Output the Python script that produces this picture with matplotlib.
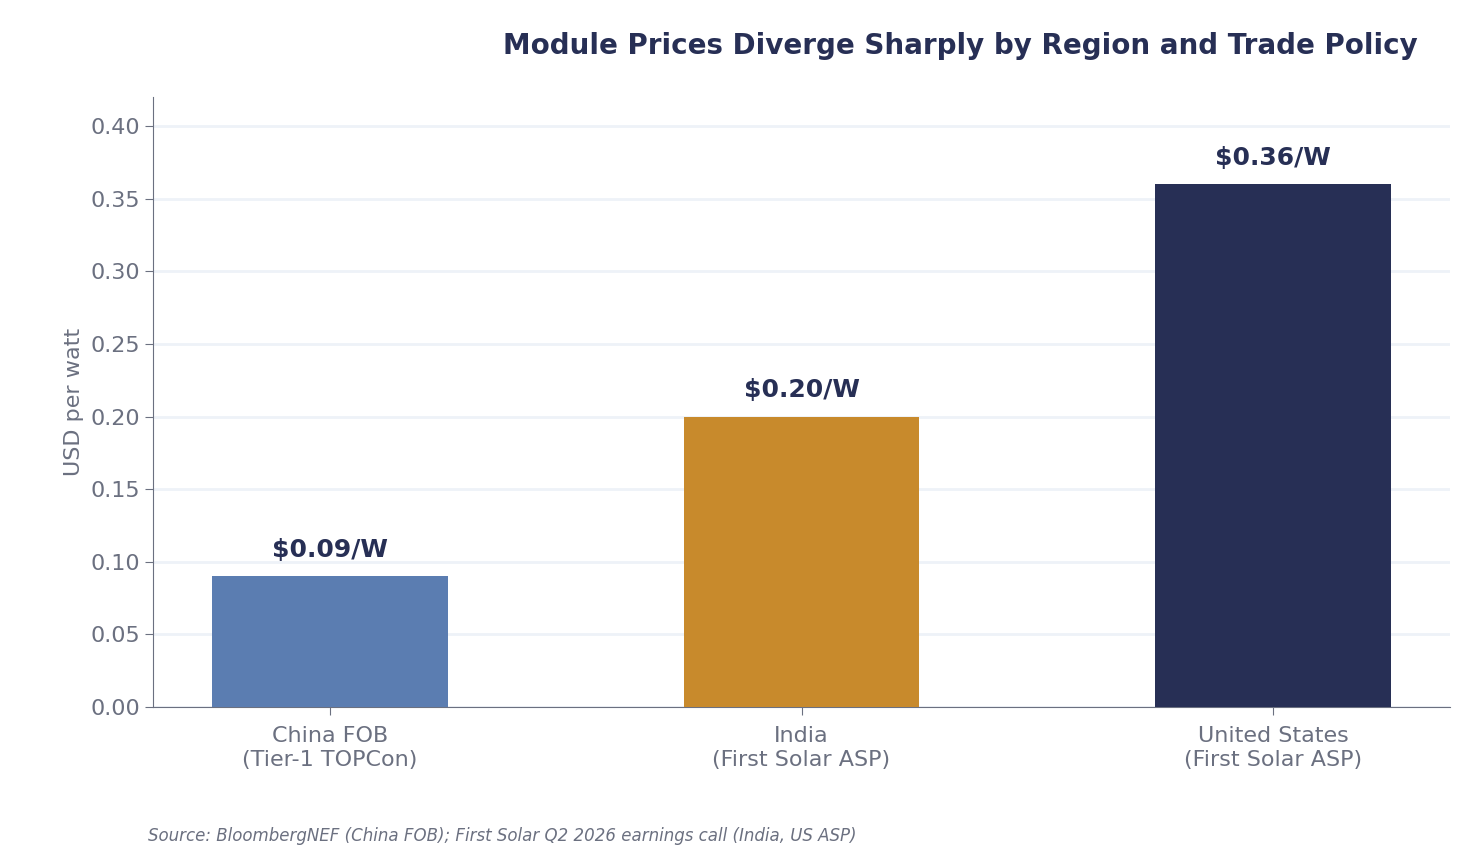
import matplotlib
matplotlib.use("Agg")
import matplotlib.pyplot as plt

plt.rcParams["font.family"] = ["DejaVu Sans"]

categories = ["China FOB\n(Tier-1 TOPCon)", "India\n(First Solar ASP)", "United States\n(First Solar ASP)"]
prices = [0.09, 0.20, 0.36]
bar_labels = ["$0.09/W", "$0.20/W", "$0.36/W"]
colors = ["#5B7DB1", "#C88A2C", "#272F55"]
yticks = [0.0, 0.05, 0.10, 0.15, 0.20, 0.25, 0.30, 0.35, 0.40]

GREY = "#6B7080"
NAVY = "#272F55"

fig = plt.figure(figsize=(14.8, 8.6), dpi=100)
ax = fig.add_axes([153/1480, 1 - 707/860, (1450-153)/1480, (707-97)/860])

x = list(range(len(categories)))
ax.bar(x, prices, width=0.5, color=colors, zorder=3)
for xi, v, lab in zip(x, prices, bar_labels):
    ax.text(xi, v + 0.01, lab, ha="center", va="bottom", fontsize=18,
            fontweight="bold", color=NAVY)

ax.set_xlim(-0.375, 2.375)
ax.set_ylim(0, 0.42)
ax.set_yticks(yticks)
ax.set_yticklabels([f"{t:.2f}" for t in yticks])
ax.set_xticks(x)
ax.set_xticklabels(categories)
ax.tick_params(axis="both", colors=GREY, labelsize=16, length=6)
ax.tick_params(axis="x", pad=8)
ax.grid(axis="y", color="#EEF2F8", linewidth=2, zorder=0)
for s in ["top", "right"]:
    ax.spines[s].set_visible(False)
for s in ["left", "bottom"]:
    ax.spines[s].set_color(GREY)
ax.set_ylabel("USD per watt", fontsize=16, color=GREY)

fig.text(1418/1480, 1 - 46/860, "Module Prices Diverge Sharply by Region and Trade Policy",
         ha="right", va="center", fontsize=20, fontweight="bold", color=NAVY)
fig.text(148/1480, 1 - 836/860,
         "Source: BloombergNEF (China FOB); First Solar Q2 2026 earnings call (India, US ASP)",
         ha="left", va="center", fontsize=12, style="italic", color=GREY)

fig.savefig("out.png", dpi=100)
